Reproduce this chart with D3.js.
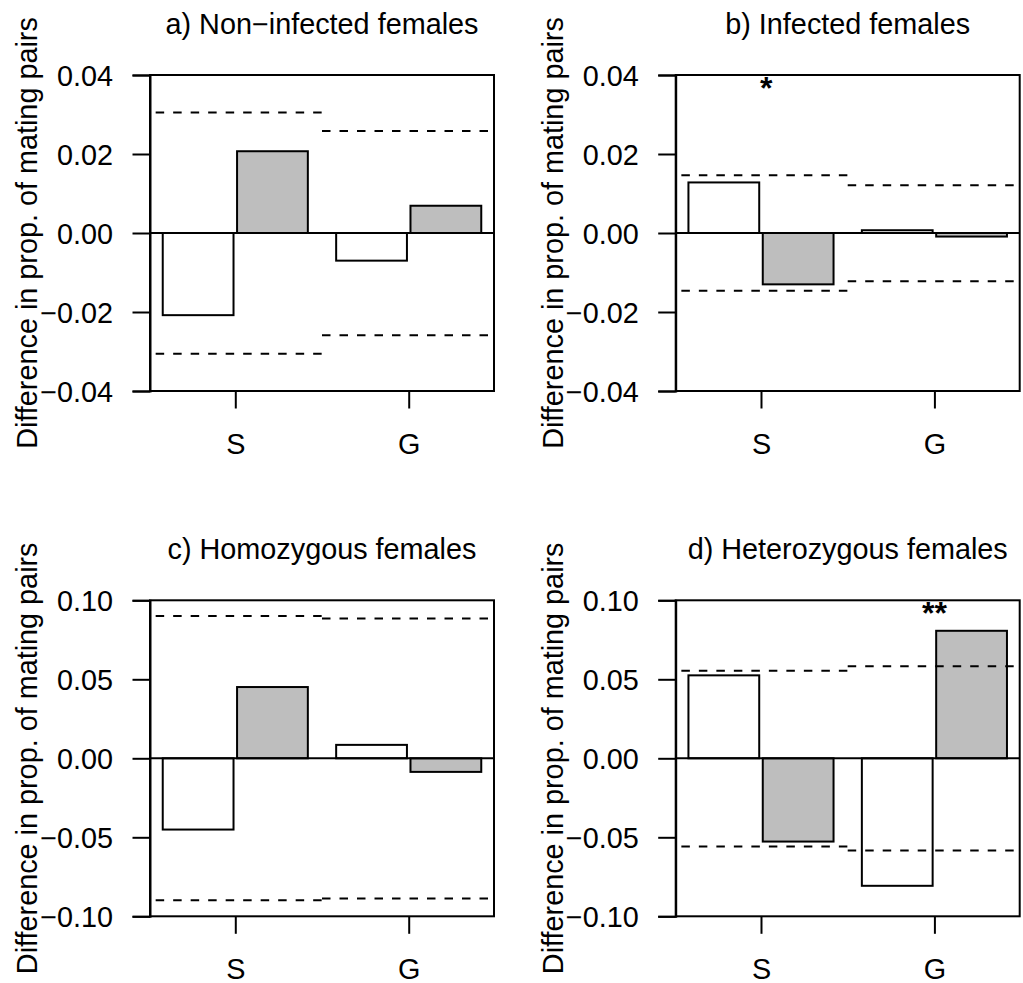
<!DOCTYPE html>
<html>
<head>
<meta charset="utf-8">
<script src="https://cdn.jsdelivr.net/npm/d3@7"></script>
<style>
  body { margin: 0; background: #fff; }
  svg text { font-family: "Liberation Sans", Arial, sans-serif; fill: #000; }
</style>
</head>
<body>
<div id="chart"></div>
<script>
// ---- data ----
var groups = ["S", "G"];

var titles = [
  "a) Non\u2212infected females",
  "b) Infected females",
  "c) Homozygous females",
  "d) Heterozygous females"
];

// white bars (first of each pair) and grey bars (second), per group S, G
var whiteA = [-0.0208, -0.0070], greyA = [0.0207, 0.0069];
var whiteB = [0.0128, 0.0007],   greyB = [-0.0130, -0.0009];
var whiteC = [-0.0451, 0.0085],  greyC = [0.0451, -0.0086];
var whiteD = [0.0525, -0.0807],  greyD = [-0.0527, 0.0807];

// dashed limits, per group S, G
var upperA = [0.0305, 0.0258], lowerA = [-0.0306, -0.0259];
var upperB = [0.0146, 0.0121], lowerB = [-0.0146, -0.0122];
var upperC = [0.0900, 0.0885], lowerC = [-0.0898, -0.0887];
var upperD = [0.0554, 0.0582], lowerD = [-0.0558, -0.0583];

var ticksTop = [-0.04, -0.02, 0, 0.02, 0.04];
var ticksBottom = [-0.10, -0.05, 0, 0.05, 0.10];

// significance marks: x in bar units, y in data units
var starsB = [{ x: 1.1, y: 0.038, label: "*" }];
var starsD = [{ x: 3.475, y: 0.095, label: "**" }];

// ---- layout ----
var width = 1023, height = 983,
    boxW = 344, boxH = 316,
    fontSize = 28.8;

var panels = [
  { left: 150,   top: 75,    title: titles[0], white: whiteA, grey: greyA, upper: upperA, lower: lowerA, ticks: ticksTop,    lim: 0.04, stars: [] },
  { left: 675.7, top: 75,    title: titles[1], white: whiteB, grey: greyB, upper: upperB, lower: lowerB, ticks: ticksTop,    lim: 0.04, stars: starsB },
  { left: 150,   top: 600.3, title: titles[2], white: whiteC, grey: greyC, upper: upperC, lower: lowerC, ticks: ticksBottom, lim: 0.10, stars: [] },
  { left: 675.7, top: 600.3, title: titles[3], white: whiteD, grey: greyD, upper: upperD, lower: lowerD, ticks: ticksBottom, lim: 0.10, stars: starsD }
];

// barplot geometry in bar units (like R's space argument)
var barW = 1, innerSpace = 0.05, groupSpace = 0.4,
    groupStep = 2 * barW + innerSpace + groupSpace,
    segBreaks = [-0.1, 2.25, 4.6];

var x = d3.scaleLinear().domain([-0.18, 4.68]).range([0, boxW]);

var svg = d3.select("#chart").append("svg")
    .attr("width", width)
    .attr("height", height);

svg.append("rect").attr("width", width).attr("height", height).attr("fill", "#fff");

var fmt = d3.format(".2f");
function label(v) { return v < 0 ? "\u2212" + fmt(-v) : fmt(v); }

panels.forEach(function(p) {
  var y = d3.scaleLinear().domain([-p.lim, p.lim]).range([boxH, 0]);

  var g = svg.append("g")
      .attr("transform", "translate(" + p.left + "," + p.top + ")");

  // bars
  var bars = [];
  groups.forEach(function(name, i) {
    bars.push({ x0: i * groupStep, v: p.white[i], fill: "#fff" });
    bars.push({ x0: i * groupStep + barW + innerSpace, v: p.grey[i], fill: "#bebebe" });
  });

  g.selectAll("rect.bar")
    .data(bars)
    .join("rect")
      .attr("class", "bar")
      .attr("x", d => x(d.x0))
      .attr("width", d => x(d.x0 + barW) - x(d.x0))
      .attr("y", d => Math.min(y(0), y(d.v)))
      .attr("height", d => Math.abs(y(d.v) - y(0)))
      .attr("fill", d => d.fill)
      .attr("stroke", "#000")
      .attr("stroke-width", 2);

  // zero line
  g.append("line")
      .attr("x1", 0).attr("x2", boxW)
      .attr("y1", y(0)).attr("y2", y(0))
      .attr("stroke", "#000").attr("stroke-width", 2);

  // dashed limits
  var segs = [];
  groups.forEach(function(name, i) {
    segs.push({ a: segBreaks[i], b: segBreaks[i + 1], v: p.upper[i] });
    segs.push({ a: segBreaks[i], b: segBreaks[i + 1], v: p.lower[i] });
  });
  g.selectAll("line.limit")
    .data(segs)
    .join("line")
      .attr("class", "limit")
      .attr("x1", d => x(d.a)).attr("x2", d => x(d.b))
      .attr("y1", d => y(d.v)).attr("y2", d => y(d.v))
      .attr("stroke", "#000")
      .attr("stroke-width", 2)
      .attr("stroke-dasharray", "8.5 9");

  // y axis
  var yAxis = g.append("g")
      .call(d3.axisLeft(y).tickValues(p.ticks).tickSize(17.5).tickPadding(19.5).tickFormat(label));
  yAxis.select(".domain").attr("stroke-width", 2);
  yAxis.selectAll(".tick line").attr("stroke-width", 2);
  yAxis.selectAll(".tick text")
      .attr("font-size", fontSize)
      .attr("font-family", null)
      .attr("dy", "0.35em");

  // x axis (group ticks only)
  var centers = groups.map((d, i) => i * groupStep + barW + innerSpace / 2);
  var xAxis = g.append("g")
      .attr("transform", "translate(0," + boxH + ")")
      .call(d3.axisBottom(x).tickValues(centers).tickSize(17.5).tickPadding(26)
        .tickFormat((d, i) => groups[i]));
  xAxis.select(".domain").remove();
  xAxis.selectAll(".tick line").attr("stroke-width", 2);
  xAxis.selectAll(".tick text")
      .attr("font-size", fontSize)
      .attr("font-family", null)
      .attr("dy", null)
      .attr("y", 63);

  // box
  g.append("rect")
      .attr("width", boxW).attr("height", boxH)
      .attr("fill", "none")
      .attr("stroke", "#000").attr("stroke-width", 2);

  // significance stars
  g.selectAll("text.star")
    .data(p.stars)
    .join("text")
      .attr("class", "star")
      .attr("x", d => x(d.x))
      .attr("y", d => y(d.y))
      .attr("dy", "0.5em")
      .attr("text-anchor", "middle")
      .attr("font-size", 32)
      .attr("font-weight", "bold")
      .text(d => d.label);

  // title
  g.append("text")
      .attr("x", boxW / 2)
      .attr("y", -41)
      .attr("text-anchor", "middle")
      .attr("font-size", fontSize)
      .text(p.title);

  // y label
  g.append("text")
      .attr("transform", "translate(-113," + (boxH / 2) + ") rotate(-90)")
      .attr("text-anchor", "middle")
      .attr("font-size", fontSize)
      .text("Difference in prop. of mating pairs");
});
</script>
</body>
</html>
